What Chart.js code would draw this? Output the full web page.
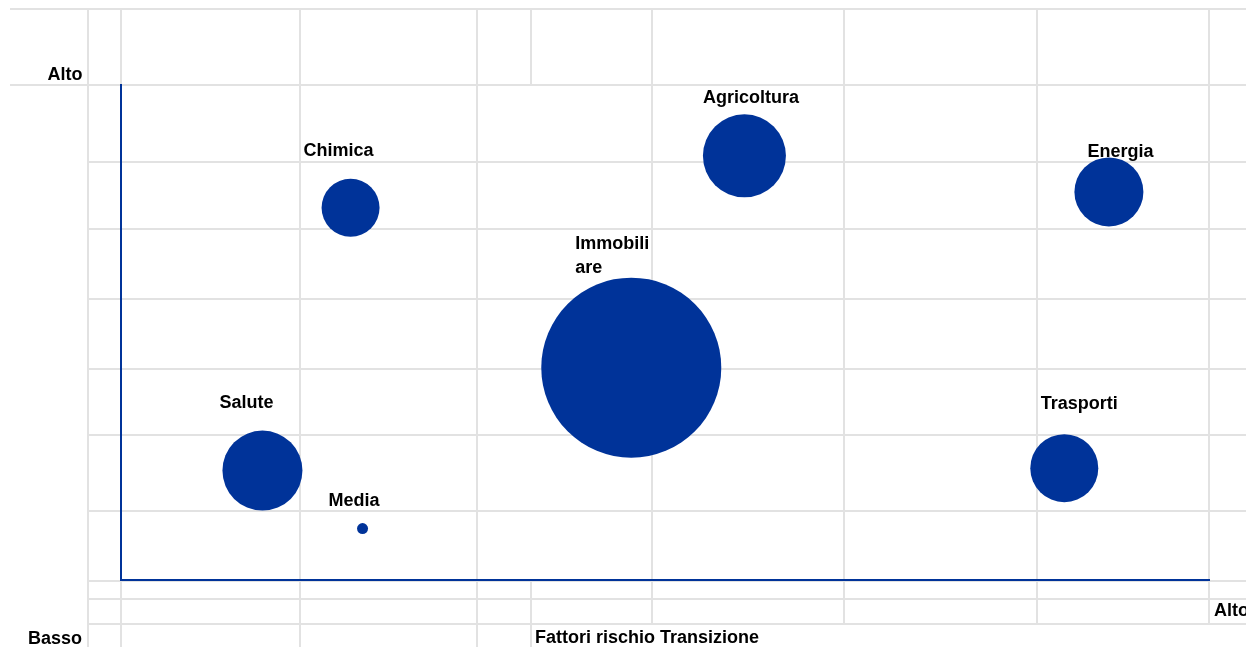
<!DOCTYPE html>
<html lang="it">
<head>
<meta charset="utf-8">
<title>Fattori rischio Transizione</title>
<script src="https://cdn.jsdelivr.net/npm/chart.js@4/dist/chart.umd.min.js"></script>
<style>
  html, body { margin: 0; padding: 0; background: #ffffff; }
  canvas { display: block; }
</style>
</head>
<body>
<canvas id="graficoRischi" width="1246" height="647"></canvas>
<script>
// Settori e posizione sulla matrice dei rischi (scala 0-10 su entrambi gli assi)
var settori = ["Salute", "Media", "Chimica", "Immobiliare", "Agricoltura", "Energia", "Trasporti"];
var rischioTransizione = [1.30, 2.22, 2.11, 4.69, 5.73, 9.08, 8.67];   // asse X
var rischioFisico      = [2.21, 1.04, 7.52, 4.29, 8.57, 7.84, 2.26];   // asse Y
var esposizione        = [40, 5.5, 29, 90, 41.5, 34.5, 34];            // raggio della bolla

// Etichette degli assi
var etichettaBasso = "Basso";
var etichettaAlto = "Alto";
var titoloAsseX = "Fattori rischio Transizione";

var BLU = "#003399";
var GRIGIO = "#e2e2e2";
var FONT = "bold 18px 'Liberation Sans', Arial, sans-serif";

// Righe di testo e spostamento (dx, dy della linea di base) di ogni etichetta rispetto al centro della bolla
var posEtichette = {
  "Salute":      { righe: ["Salute"], dx: -43, dy: -63 },
  "Media":       { righe: ["Media"], dx: -34, dy: -23 },
  "Chimica":     { righe: ["Chimica"], dx: -47, dy: -51.5 },
  "Immobiliare": { righe: ["Immobili", "are"], dx: -56, dy: -119 },
  "Agricoltura": { righe: ["Agricoltura"], dx: -41.5, dy: -52.5 },
  "Energia":     { righe: ["Energia"], dx: -21.5, dy: -35 },
  "Trasporti":   { righe: ["Trasporti"], dx: -23.5, dy: -59.5 }
};

// Griglia del foglio di calcolo sullo sfondo
var righeFoglio = [162, 229, 299, 369, 435, 511, 581, 599, 624];
var colonneFoglio = [
  { x: 88,  da: 9, a: 647 },
  { x: 121, da: 9, a: 647 },
  { x: 300, da: 9, a: 647 },
  { x: 477, da: 9, a: 647 },
  { x: 531, da: 9, a: 85 },
  { x: 531, da: 581, a: 647 },
  { x: 652, da: 9, a: 624 },
  { x: 844, da: 9, a: 624 },
  { x: 1037, da: 9, a: 624 },
  { x: 1209, da: 9, a: 624 }
];

var pluginFoglio = {
  id: "foglio",
  beforeDraw: function (chart) {
    var ctx = chart.ctx;
    ctx.save();
    ctx.strokeStyle = GRIGIO;
    ctx.lineWidth = 2;
    ctx.beginPath();
    ctx.moveTo(10, 9); ctx.lineTo(chart.width, 9);
    ctx.moveTo(10, 85); ctx.lineTo(chart.width, 85);
    righeFoglio.forEach(function (y) {
      ctx.moveTo(88, y); ctx.lineTo(chart.width, y);
    });
    colonneFoglio.forEach(function (c) {
      ctx.moveTo(c.x, c.da); ctx.lineTo(c.x, c.a);
    });
    ctx.stroke();
    ctx.restore();
  },
  afterDraw: function (chart) {
    var ctx = chart.ctx;
    var area = chart.chartArea;
    ctx.save();
    ctx.font = FONT;
    ctx.fillStyle = "#000000";
    ctx.textBaseline = "alphabetic";
    // Alto / Basso agli estremi degli assi
    ctx.textAlign = "right";
    ctx.fillText(etichettaAlto, 82.5, area.top - 5);
    ctx.fillText(etichettaBasso, 82, 644);
    ctx.textAlign = "left";
    ctx.fillText(etichettaAlto, area.right + 5, 615.5);
    ctx.fillText(titoloAsseX, 535, 642.5);
    // Nomi dei settori sopra le bolle
    var meta = chart.getDatasetMeta(0);
    meta.data.forEach(function (punto, i) {
      var p = posEtichette[settori[i]];
      p.righe.forEach(function (testo, r) {
        ctx.fillText(testo, punto.x + p.dx, punto.y + p.dy + r * 24);
      });
    });
    ctx.restore();
  }
};

var dati = settori.map(function (s, i) {
  return { x: rischioTransizione[i], y: rischioFisico[i], r: esposizione[i] };
});

new Chart(document.getElementById("graficoRischi"), {
  type: "bubble",
  data: {
    datasets: [{
      label: "Settori",
      data: dati,
      backgroundColor: BLU,
      borderWidth: 0,
      hoverRadius: 0
    }]
  },
  options: {
    responsive: false,
    animation: false,
    events: [],
    clip: false,
    layout: {
      autoPadding: false,   // l'area del grafico resta fissa anche con bolle grandi
      padding: { left: 121, right: 37, top: 85, bottom: 67 }
    },
    plugins: {
      legend: { display: false },
      tooltip: { enabled: false }
    },
    scales: {
      x: {
        type: "linear",
        min: 0,
        max: 10,
        grid: { display: false, drawTicks: false },
        ticks: { display: false },
        border: { display: true, color: BLU, width: 2 },
        afterFit: function (scale) { scale.height = 0; }
      },
      y: {
        type: "linear",
        min: 0,
        max: 10,
        grid: { display: false, drawTicks: false },
        ticks: { display: false },
        border: { display: true, color: BLU, width: 2 },
        afterFit: function (scale) { scale.width = 0; }
      }
    }
  },
  plugins: [pluginFoglio]
});
</script>
</body>
</html>
